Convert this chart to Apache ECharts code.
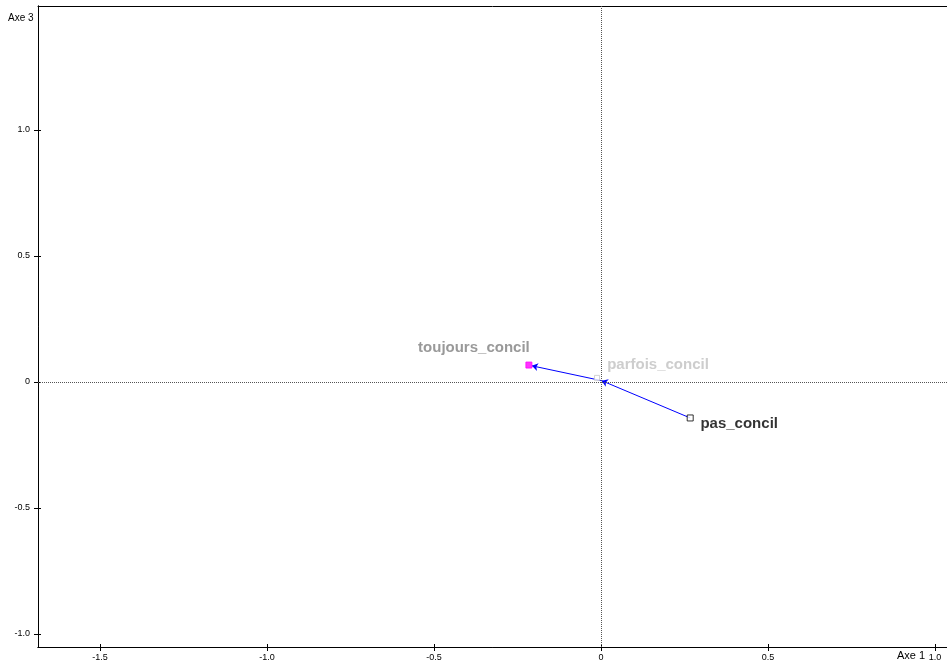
<!DOCTYPE html>
<html><head><meta charset="utf-8">
<script src="https://cdn.jsdelivr.net/npm/echarts@6/dist/echarts.min.js"></script>
<style>html,body{margin:0;padding:0;background:#fff}#c{width:947px;height:667px}</style>
</head><body><div id="c"></div>
<script>
// Data
const categories = ['toujours_concil', 'parfois_concil', 'pas_concil'];
const axe1 = [-0.216, -0.012, 0.267];
const axe3 = [0.067, 0.016, -0.143];
// trajectory arrows (start -> arrow tip)
const arrowStart = [[0.267, -0.143], [0.002, 0.005]];
const arrowEnd = [[0.002, 0.005], [-0.207, 0.064]];
const xTicks = [-1.5, -1.0, -0.5, 0, 0.5, 1.0];
const yTicks = [-1.0, -0.5, 0, 0.5, 1.0];

const font = 'Liberation Sans, Arial, Helvetica, sans-serif';
const fmt = v => (Math.abs(v) < 1e-9 ? '0' : Number(v).toFixed(1));
const X_MIN = -1.686, X_MAX = 1.036, Y_MIN = -1.052, Y_MAX = 1.492;

const pointStyles = [
  {symbol: 'rect', size: 6, item: {color: '#ff00ff', borderColor: '#ff00ff', borderWidth: 1},
   label: {color: '#808080', offset: [-55, -17]}},
  {symbol: 'rect', size: 5, item: {color: '#ffffff', borderColor: '#c8c8c8', borderWidth: 1},
   label: {color: '#c0c0c0', offset: [61, -13]}},
  {symbol: 'rect', size: 6, item: {color: '#ffffff', borderColor: '#000000', borderWidth: 1},
   label: {color: '#000000', offset: [49, 6]}}
];

const pointData = categories.map((name, i) => ({
  name: name,
  value: [axe1[i], axe3[i]],
  symbol: pointStyles[i].symbol,
  symbolSize: pointStyles[i].size,
  itemStyle: pointStyles[i].item,
  label: Object.assign({show: true, position: 'inside', formatter: name,
    fontSize: 15, fontWeight: 'bold', fontFamily: font}, pointStyles[i].label)
}));

const axisCommon = {
  type: 'value',
  axisLine: {show: true, onZero: false, lineStyle: {color: '#000', width: 1}},
  splitLine: {show: false},
  axisLabel: {show: true, fontSize: 9, color: '#000', fontFamily: font, formatter: fmt},
};

const chart = echarts.init(document.getElementById('c'), null, {renderer: 'canvas'});
chart.setOption({
  animation: false,
  backgroundColor: '#ffffff',
  grid: {left: 38, right: 0, top: 6, bottom: 20, containLabel: false},
  xAxis: [
    Object.assign({}, axisCommon, {
      min: X_MIN, max: X_MAX, position: 'bottom',
      axisTick: {show: true, length: 4, inside: false, lineStyle: {color: '#000'}, customValues: xTicks},
      axisLabel: Object.assign({}, axisCommon.axisLabel, {customValues: xTicks, margin: 6})
    }),
    Object.assign({}, axisCommon, {
      min: X_MIN, max: X_MAX, position: 'bottom',
      axisTick: {show: true, length: 3, inside: true, lineStyle: {color: '#000'}, customValues: xTicks},
      axisLabel: {show: false}
    }),
    {type: 'value', min: X_MIN, max: X_MAX, position: 'top',
      axisLine: {show: true, onZero: false, lineStyle: {color: '#000', width: 1}},
      axisTick: {show: false}, axisLabel: {show: false}, splitLine: {show: false}}
  ],
  yAxis: [
    Object.assign({}, axisCommon, {
      min: Y_MIN, max: Y_MAX, position: 'left',
      axisTick: {show: true, length: 4, inside: false, lineStyle: {color: '#000'}, customValues: yTicks},
      axisLabel: Object.assign({}, axisCommon.axisLabel, {customValues: yTicks, margin: 8})
    }),
    Object.assign({}, axisCommon, {
      min: Y_MIN, max: Y_MAX, position: 'left',
      axisTick: {show: true, length: 3, inside: true, lineStyle: {color: '#000'}, customValues: yTicks},
      axisLabel: {show: false}
    })
  ],
  graphic: [
    {type: 'text', left: 8, top: 13, style: {text: 'Axe 3', fontSize: 10, fill: '#000', fontFamily: font}},
    {type: 'text', left: 897, top: 650, style: {text: 'Axe 1', fontSize: 11, fill: '#000', fontFamily: font}}
  ],
  series: [
    {
      type: 'line', data: [], xAxisIndex: 0, yAxisIndex: 0,
      markLine: {
        silent: true, symbol: 'none', animation: false,
        lineStyle: {color: '#555', type: [1, 1], width: 1},
        label: {show: false},
        data: [{xAxis: 0}, {yAxis: 0}]
      }
    },
    {
      type: 'lines', coordinateSystem: 'cartesian2d', xAxisIndex: 0, yAxisIndex: 0,
      symbol: ['none', 'arrow'], symbolSize: 6,
      lineStyle: {color: '#0000ff', width: 1, opacity: 1},
      data: arrowStart.map((s, i) => ({coords: [s, arrowEnd[i]]})),
      z: 3
    },
    {
      type: 'scatter', xAxisIndex: 0, yAxisIndex: 0,
      data: pointData, z: 4
    }
  ]
});
</script>
</body></html>
